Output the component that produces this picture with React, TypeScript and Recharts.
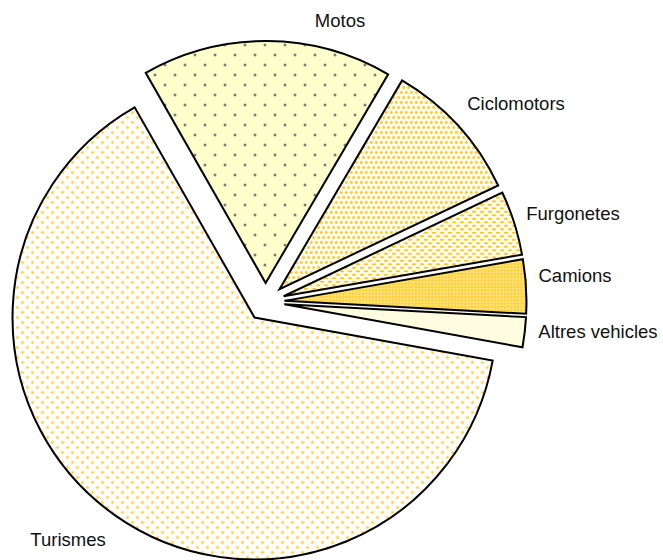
import React from "react";
import { PieChart, Pie, Cell, Sector } from "recharts";

const categories = ["Motos", "Ciclomotors", "Furgonetes", "Camions", "Altres vehicles", "Turismes"];
const shares = [16.7, 9.5, 4.3, 3.6, 2.0, 63.9];
const patternIds = ["pMotos", "pCiclo", "pFurgo", "pCamions", "pAltres", "pTurismes"];

const data = categories.map((name, i) => ({ name, value: shares[i] }));

// label centres (layout)
const LABEL_POS: Record<string, [number, number]> = {
  Motos: [340, 20],
  Ciclomotors: [516, 103],
  Furgonetes: [573, 213],
  Camions: [575, 275],
  "Altres vehicles": [598, 331],
  Turismes: [68, 539],
};

const EXPLODE = 19;
const RAD = Math.PI / 180;

const ExplodedSector = (props: any) => {
  const { cx, cy, midAngle, innerRadius, outerRadius, startAngle, endAngle, fill } = props;
  const dx = EXPLODE * Math.cos(midAngle * RAD);
  const dy = -EXPLODE * Math.sin(midAngle * RAD);
  return (
    <Sector
      cx={cx + dx}
      cy={cy + dy}
      innerRadius={innerRadius}
      outerRadius={outerRadius}
      startAngle={startAngle}
      endAngle={endAngle}
      fill={fill}
      stroke="#000"
      strokeWidth={2}
      strokeLinejoin="miter"
    />
  );
};

const renderLabel = (props: any) => {
  const name = props.name ?? props.payload?.name;
  const pos = LABEL_POS[name];
  if (!pos) return null;
  return (
    <text
      x={pos[0]}
      y={pos[1]}
      textAnchor="middle"
      dominantBaseline="central"
      fill="#111"
      fontSize={18.5}
      fontFamily="'Liberation Sans', Arial, sans-serif"
    >
      {name}
    </text>
  );
};

const Patterns = () => (
  <svg width={0} height={0} style={{ position: "absolute" }}>
    <defs>
      <pattern id="pMotos" width={20} height={20} patternUnits="userSpaceOnUse">
        <rect width={20} height={20} fill="#FFFFCC" />
        <circle cx={5} cy={5} r={1.7} fill="#B8B89A" />
        <circle cx={5} cy={5} r={1.1} fill="#6E6E6E" />
        <circle cx={15} cy={15} r={1.7} fill="#B8B89A" />
        <circle cx={15} cy={15} r={1.1} fill="#6E6E6E" />
      </pattern>
      <pattern id="pTurismes" width={10} height={10} patternUnits="userSpaceOnUse">
        <rect width={10} height={10} fill="#FFFFFF" />
        <circle cx={2.5} cy={2.5} r={1.9} fill="#FFEBA6" />
        <circle cx={2.5} cy={2.5} r={1.0} fill="#FFCC33" />
        <circle cx={7.5} cy={7.5} r={1.9} fill="#FFEBA6" />
        <circle cx={7.5} cy={7.5} r={1.0} fill="#FFCC33" />
      </pattern>
      <pattern id="pCiclo" width={5} height={10} patternUnits="userSpaceOnUse">
        <rect width={5} height={10} fill="#FFFFFF" />
        <circle cx={1.25} cy={2.5} r={1.9} fill="#FFE27A" />
        <circle cx={1.25} cy={2.5} r={1.1} fill="#FFC61A" />
        <circle cx={3.75} cy={7.5} r={1.9} fill="#FFE27A" />
        <circle cx={3.75} cy={7.5} r={1.1} fill="#FFC61A" />
      </pattern>
      <pattern id="pFurgo" width={8} height={7} patternUnits="userSpaceOnUse">
        <rect width={8} height={7} fill="#FFFBEA" />
        <ellipse cx={2} cy={1.75} rx={2.1} ry={1.1} fill="#FFC61A" />
        <ellipse cx={6} cy={5.25} rx={2.1} ry={1.1} fill="#FFC61A" />
      </pattern>
      <pattern id="pCamions" width={3.3} height={3.3} patternUnits="userSpaceOnUse">
        <rect width={3.3} height={3.3} fill="#FFD547" />
        <circle cx={1.65} cy={1.65} r={0.75} fill="#FFF3C4" />
      </pattern>
      <pattern id="pAltres" width={4} height={4} patternUnits="userSpaceOnUse">
        <rect width={4} height={4} fill="#FFFFEE" />
        <circle cx={1} cy={1} r={0.8} fill="#FFF5B0" />
        <circle cx={3} cy={3} r={0.8} fill="#FFF5B0" />
      </pattern>
    </defs>
  </svg>
);

export default function App() {
  return (
    <div style={{ position: "absolute", left: 0, top: 0, width: 663, height: 560, background: "#fff" }}>
      <Patterns />
      <PieChart width={663} height={560} margin={{ top: 0, right: 0, bottom: 0, left: 0 }}>
        <Pie
          data={data}
          dataKey="value"
          nameKey="name"
          cx={265.5}
          cy={302}
          innerRadius={0}
          outerRadius={242}
          startAngle={119.7}
          endAngle={-240.3}
          isAnimationActive={false}
          shape={ExplodedSector}
          label={renderLabel}
          labelLine={false}
          stroke="#000"
          strokeWidth={2}
        >
          {data.map((d, i) => (
            <Cell key={d.name} fill={`url(#${patternIds[i]})`} />
          ))}
        </Pie>
      </PieChart>
    </div>
  );
}
